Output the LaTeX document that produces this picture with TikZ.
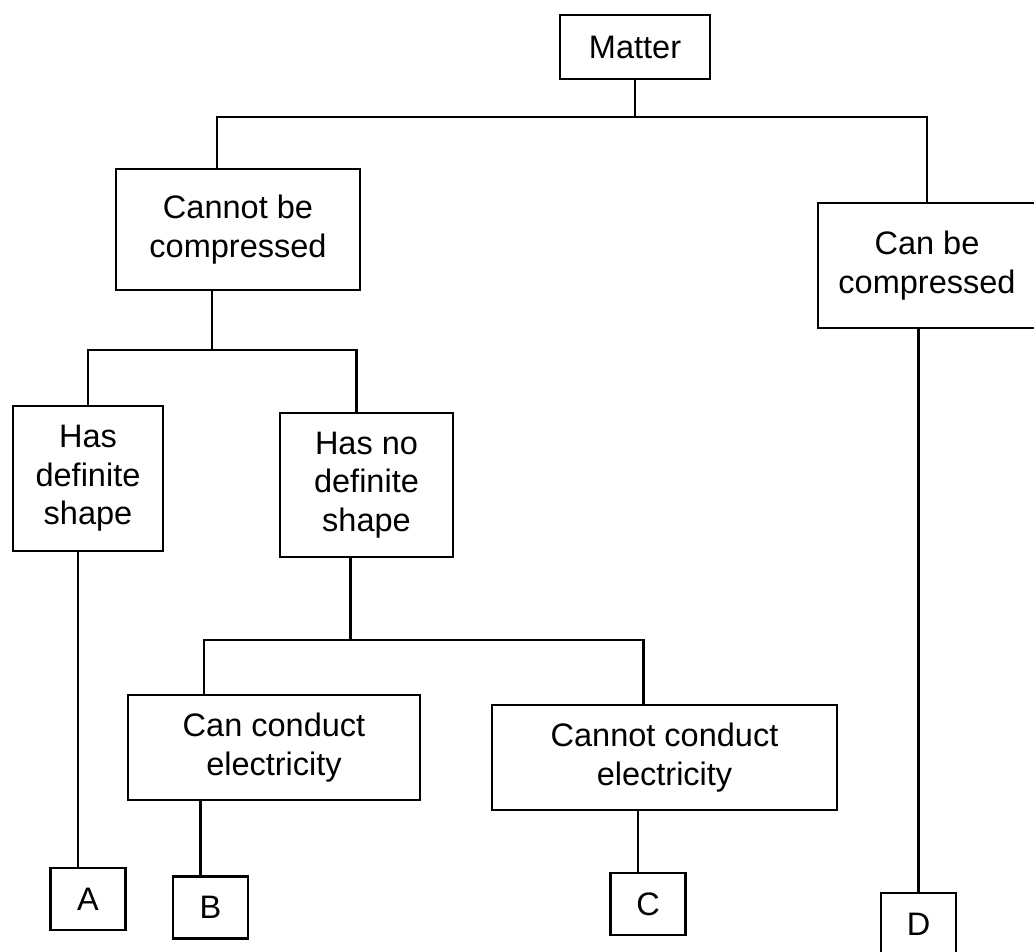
\documentclass[tikz,border=0pt]{standalone}
\usepackage{fontspec}
\setmainfont{Liberation Sans}
\usepackage{tikz}

\tikzset{
    caixa/.style={draw, line width=1.3pt, align=center, inner sep=0pt,
        font=\fontsize{18.5}{22}\selectfont},
    folha/.style={caixa, minimum width=1.5cm, minimum height=1.24cm},
    liga/.style={line width=1.3pt}
}

\begin{document}
\begin{tikzpicture}
        \useasboundingbox (0,0) rectangle (20.68,19.02);

        % Caixas
        \node[caixa, minimum width=3cm, minimum height=1.28cm] (materia) at (12.7,18.08) {Matter};
        \node[caixa, minimum width=4.88cm, minimum height=2.42cm] (naocomp) at (4.76,14.43) {Cannot be\\compressed};
        \node[caixa, minimum width=4.36cm, minimum height=2.5cm] (comp) at (18.54,13.71) {Can be\\compressed};
        \node[caixa, minimum width=3cm, minimum height=2.9cm] (forma) at (1.76,9.45) {Has\\definite\\shape};
        \node[caixa, minimum width=3.46cm, minimum height=2.88cm] (semforma) at (7.33,9.32) {Has no\\definite\\shape};
        \node[caixa, minimum width=5.84cm, minimum height=2.1cm] (conduz) at (5.48,4.07) {Can conduct\\electricity};
        \node[caixa, minimum width=6.9cm, minimum height=2.1cm] (naoconduz) at (13.29,3.87) {Cannot conduct\\electricity};

        % Letras
        \foreach \n/\x/\y in {A/1.76/1.04,B/4.21/0.87,C/12.96/0.94,D/18.37/0.54}
            \node[folha] (\n) at (\x,\y) {\n};

        % Ramificações
        \coordinate (r1) at (12.64,16.68);
        \coordinate (r2) at (4.24,12.02);
        \coordinate (r3) at (7.0,6.22);

        \draw[liga] (materia.south) -- (materia.south |- r1);
        \draw[liga] ([xshift=-4.2mm]naocomp.north) |- (r1) -| (comp.north);

        \draw[liga] ([xshift=-5.2mm]naocomp.south) -- ([xshift=-5.2mm]naocomp.south |- r2);
        \draw[liga] (forma.north) |- (r2) -| ([xshift=-2mm]semforma.north);

        \draw[liga] ([xshift=-3.2mm]semforma.south) -- ([xshift=-3.2mm]semforma.south |- r3);
        \draw[liga] ([xshift=-14mm]conduz.north) |- (r3) -| ([xshift=-4.2mm]naoconduz.north);

        % Ligações às letras
        \draw[liga] ([xshift=-2mm]A.north) -- ([xshift=-2mm]A.north |- forma.south);
        \draw[liga] ([xshift=-2mm]B.north) -- ([xshift=-2mm]B.north |- conduz.south);
        \draw[liga] ([xshift=-2mm]C.north) -- ([xshift=-2mm]C.north |- naoconduz.south);
        \draw[liga] (D.north) -- (D.north |- comp.south);
    \end{tikzpicture}
\end{document}
